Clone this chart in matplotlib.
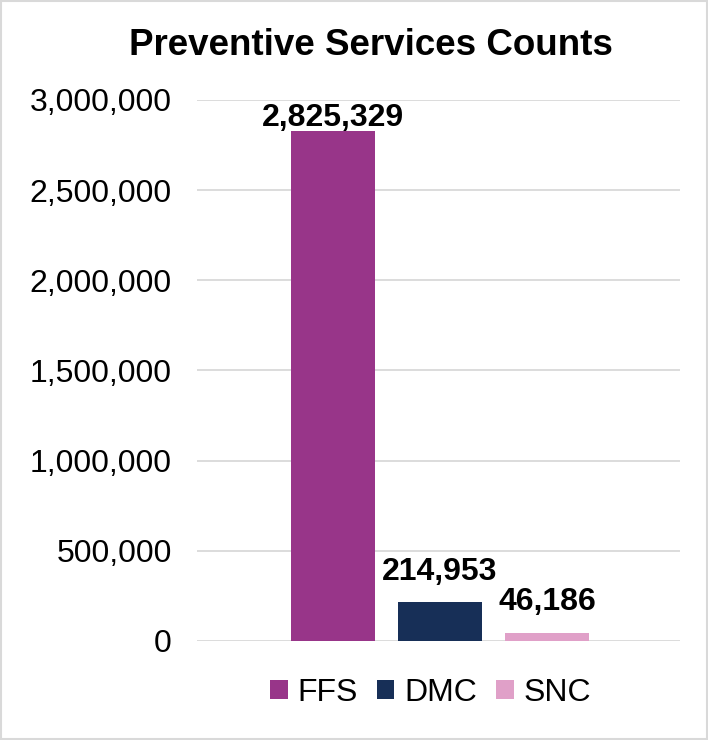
import matplotlib.pyplot as plt
from matplotlib.patches import Rectangle
from matplotlib.ticker import FuncFormatter

series = ['FFS', 'DMC', 'SNC']
counts = [2825329, 214953, 46186]
colors = ['#983589', '#172F57', '#E0A0C8']

plt.rcParams['font.family'] = ['Liberation Sans', 'DejaVu Sans']

fig = plt.figure(figsize=(7.08, 7.40), dpi=100)
ax = fig.add_axes([0.278, 0.134, 0.682, 0.731])

x = list(range(len(series)))
bars = ax.bar(x, counts, width=0.785, color=colors, label=series, zorder=3)

ymax = 3000000
ax.set_xlim(-1.27, 3.24)
ax.set_ylim(0, ymax)

# labels sit above the bar; a label that would leave the plot area is pushed down
for xi, v in zip(x, counts):
    if v > ymax * 0.93:
        ax.annotate(f'{v:,}', (xi, ymax), xytext=(0, -2), textcoords='offset points',
                    ha='center', va='top', fontsize=23, fontweight='bold')
    else:
        ax.annotate(f'{v:,}', (xi, v), xytext=(0, 11), textcoords='offset points',
                    ha='center', va='bottom', fontsize=23, fontweight='bold')

ax.set_yticks(range(0, ymax + 1, 500000))
ax.yaxis.set_major_formatter(FuncFormatter(lambda v, p: f'{int(v):,}'))
ax.tick_params(axis='y', labelsize=23, length=0, pad=18)
ax.set_xticks([])
ax.grid(axis='y', color='#D9D9D9', linewidth=1.3, zorder=0)
for s in ax.spines.values():
    s.set_visible(False)

fig.text(0.524, 0.939, 'Preventive Services Counts', ha='center', va='center',
         fontsize=26.5, fontweight='bold')

fig.legend(handles=bars, labels=series, loc='center', bbox_to_anchor=(0.608, 0.064),
           ncol=3, frameon=False, fontsize=23, handlelength=0.55, handleheight=0.55,
           handletextpad=0.3, columnspacing=0.6)

fig.patches.append(Rectangle((0.002, 0.002), 0.996, 0.996, transform=fig.transFigure,
                             fill=False, edgecolor='#D9D9D9', linewidth=1.5))

fig.savefig('out.png', dpi=100)
